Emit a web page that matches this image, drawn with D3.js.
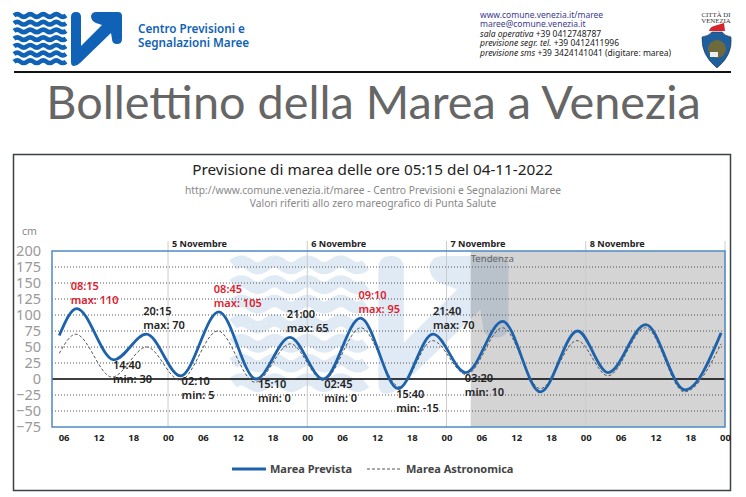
<!DOCTYPE html>
<html>
<head>
<meta charset="utf-8">
<style>
  body { margin: 0; background: #fff; }
  svg { display: block; font-family: "Noto Sans", sans-serif; }
</style>
</head>
<body>
<div id="chart"></div>
<script src="https://cdn.jsdelivr.net/npm/d3@7"></script>
<script>
// values
const forecastTimes = ['2022-11-04 05:15', '2022-11-04 08:15', '2022-11-04 14:40', '2022-11-04 20:15', '2022-11-05 02:10', '2022-11-05 08:45', '2022-11-05 15:10', '2022-11-05 21:00', '2022-11-06 02:45', '2022-11-06 09:10', '2022-11-06 15:40', '2022-11-06 21:40', '2022-11-07 03:20', '2022-11-07 09:40', '2022-11-07 16:10', '2022-11-07 22:35', '2022-11-08 03:50', '2022-11-08 10:20', '2022-11-08 17:05', '2022-11-08 23:20'];
const forecastValues = [68, 110, 30, 70, 5, 105, 0, 65, 0, 95, -15, 70, 10, 90, -20, 75, 10, 85, -17, 72];

const astroTimes = ['2022-11-04 05:15', '2022-11-04 08:05', '2022-11-04 14:20', '2022-11-04 20:20', '2022-11-05 02:05', '2022-11-05 08:35', '2022-11-05 15:00', '2022-11-05 21:05', '2022-11-06 02:45', '2022-11-06 09:15', '2022-11-06 15:55', '2022-11-06 21:35', '2022-11-07 03:25', '2022-11-07 09:40', '2022-11-07 16:10', '2022-11-07 22:30', '2022-11-08 03:50', '2022-11-08 10:20', '2022-11-08 17:00', '2022-11-08 23:20'];
const astroValues = [40, 70, 3, 50, -2, 75, -5, 55, -2, 80, -12, 60, 7, 80, -15, 60, 5, 80, -20, 55];

const labelTimes = ['08:15', '14:40', '20:15', '02:10', '08:45', '15:10', '21:00', '02:45', '09:10', '15:40', '21:40', '03:20'];
const labelKinds = ['max', 'min', 'max', 'min', 'max', 'min', 'max', 'min', 'max', 'min', 'max', 'min'];
const labelValues = [110, 30, 70, 5, 105, 0, 65, 0, 95, -15, 70, 10];
const labelAlert = [true, false, false, false, true, false, false, false, true, false, false, false];
const labelAt = forecastTimes.slice(1, 13);

const yTicks = [200, 175, 150, 125, 100, 75, 50, 25, 0, -25, -50, -75];
const gridValues = [175, 150, 125, 100, 75, 50, 25, -25, -50];
const dayNames = ['5 Novembre', '6 Novembre', '7 Novembre', '8 Novembre'];
const dayStarts = ['2022-11-05 00:00', '2022-11-06 00:00', '2022-11-07 00:00', '2022-11-08 00:00', '2022-11-09 00:00'];
const trendStart = '2022-11-07 04:10';

const width = 746;
const height = 497;
const plot = { left: 52, right: 725, top: 251, bottom: 427 };
const blue = '#0f62b6';

const parseTime = d3.timeParse('%Y-%m-%d %H:%M');

const svg = d3.select('#chart').append('svg')
    .attr('width', width)
    .attr('height', height);

const xScale = d3.scaleTime()
    .domain([parseTime('2022-11-04 04:00'), parseTime('2022-11-09 00:00')])
    .range([plot.left, plot.right]);

const yScale = d3.scaleLinear()
    .domain([-75, 200])
    .range([plot.bottom, plot.top]);

// the centre's logo, drawn in its own 108x54 box
function drawLogo(group) {
    for (let row = 0; row < 7; row++) {
        let d = 'M0 ' + (3.5 + row * 7.7);
        for (let i = 0; i < 8; i++) {
            d += ' q3.25 ' + (i % 2 ? 2.6 : -2.6) + ' 6.5 0';
        }
        group.append('path')
            .attr('d', d)
            .attr('fill', 'none')
            .attr('stroke', 'currentColor')
            .attr('stroke-width', 4.6);
    }
    group.append('path')
        .attr('d', 'M57 5 Q57 0 62 0 Q67 0 67 5 L67 34 L88 13 L82 11 Q77 9 77 4 Q78 0 82 0 L104 0 Q108 0 108 4 L108 27 Q108 32 103 32 Q98 32 98 27 L97 21 L66 51 Q63 54 60 54 Q57 54 57 50 Z')
        .attr('fill', 'currentColor');
}

// header
drawLogo(svg.append('g')
    .attr('transform', 'translate(14,12)')
    .style('color', blue));

svg.selectAll('.centre')
    .data(['Centro Previsioni e', 'Segnalazioni Maree'])
    .enter().append('text')
    .attr('x', 138)
    .attr('y', (d, i) => 33 + i * 14)
    .attr('font-size', 11.7)
    .attr('font-weight', 600)
    .attr('fill', blue)
    .text(d => d);

const contacts = [
    ['', 'www.comune.venezia.it/maree'],
    ['', 'maree@comune.venezia.it'],
    ['sala operativa', ' +39 0412748787'],
    ['previsione segr. tel.', ' +39 0412411996'],
    ['previsione sms', ' +39 3424141041 (digitare: marea)']
];
contacts.forEach((c, i) => {
    const t = svg.append('text')
        .attr('x', 480)
        .attr('y', 17.5 + i * 9.5)
        .attr('font-size', 8.5)
        .attr('fill', i < 2 ? '#3c3a8e' : '#222');
    t.append('tspan').attr('font-style', 'italic').text(c[0]);
    t.append('tspan').text(c[1]);
});

// city crest
svg.selectAll('.crest')
    .data(['CITTÀ DI', 'VENEZIA'])
    .enter().append('text')
    .attr('x', 716)
    .attr('y', (d, i) => 16.5 + i * 6.5)
    .attr('text-anchor', 'middle')
    .attr('font-family', '"Liberation Serif", serif')
    .attr('font-size', 6.8)
    .attr('fill', '#333')
    .text(d => d);
svg.append('path')
    .attr('d', 'M709 31 Q710 27 714 26 L724 23 L725 31 Z')
    .attr('fill', '#d8232a');
svg.append('path')
    .attr('d', 'M702 37 Q709 36 712 32 L722 32 Q725 36 731 37 Q733 55 717 68 Q701 55 702 37 Z')
    .attr('fill', '#1f5f9e')
    .attr('stroke', '#17344f')
    .attr('stroke-width', 0.6);
svg.append('circle')
    .attr('cx', 717)
    .attr('cy', 49)
    .attr('r', 9)
    .attr('fill', '#6f6a3c');
svg.append('rect')
    .attr('x', 710)
    .attr('y', 52)
    .attr('width', 8)
    .attr('height', 5)
    .attr('fill', '#eee');

svg.append('line')
    .attr('x1', 14)
    .attr('x2', 731)
    .attr('y1', 72)
    .attr('y2', 72)
    .attr('stroke', '#111')
    .attr('stroke-width', 2);

svg.append('text')
    .attr('x', 373.5)
    .attr('y', 119)
    .attr('text-anchor', 'middle')
    .attr('font-family', 'Lato, sans-serif')
    .attr('font-size', 46.8)
    .attr('fill', '#666')
    .text('Bollettino della Marea a Venezia');

// outer frame
svg.append('rect')
    .attr('x', 13.5)
    .attr('y', 154.5)
    .attr('width', 717)
    .attr('height', 336)
    .attr('fill', '#fff')
    .attr('stroke', '#3a4248')
    .attr('stroke-width', 1.5);

svg.append('text')
    .attr('x', 372.5)
    .attr('y', 175)
    .attr('text-anchor', 'middle')
    .attr('font-size', 15.3)
    .attr('fill', '#222')
    .text('Previsione di marea delle ore 05:15 del 04-11-2022');

svg.selectAll('.subtitle')
    .data(['http://www.comune.venezia.it/maree - Centro Previsioni e Segnalazioni Maree', 'Valori riferiti allo zero mareografico di Punta Salute'])
    .enter().append('text')
    .attr('x', 373)
    .attr('y', (d, i) => 194 + i * 13)
    .attr('text-anchor', 'middle')
    .attr('font-size', 10.3)
    .attr('fill', '#888')
    .text(d => d);

svg.append('text')
    .attr('x', 22)
    .attr('y', 235)
    .attr('font-size', 10.5)
    .attr('fill', '#888')
    .text('cm');

// plot background: watermark, then the trend shading on top of it
drawLogo(svg.append('g')
    .attr('transform', 'translate(233,256) scale(2.55)')
    .attr('opacity', 0.13)
    .style('color', blue));

svg.append('rect')
    .attr('x', xScale(parseTime(trendStart)))
    .attr('y', plot.top)
    .attr('width', plot.right - xScale(parseTime(trendStart)))
    .attr('height', plot.bottom - plot.top)
    .attr('fill', '#000')
    .attr('opacity', 0.17);

svg.append('text')
    .attr('x', xScale(parseTime(trendStart)))
    .attr('y', 262)
    .attr('font-size', 9.6)
    .attr('fill', '#666')
    .text('Tendenza');

svg.selectAll('.grid')
    .data(gridValues)
    .enter().append('line')
    .attr('x1', plot.left)
    .attr('x2', plot.right)
    .attr('y1', d => yScale(d))
    .attr('y2', d => yScale(d))
    .attr('stroke', '#555')
    .attr('stroke-dasharray', '1,2');

svg.selectAll('.day-line')
    .data(dayStarts)
    .enter().append('line')
    .attr('x1', d => xScale(parseTime(d)))
    .attr('x2', d => xScale(parseTime(d)))
    .attr('y1', 241)
    .attr('y2', plot.bottom)
    .attr('stroke', '#ccc');

svg.selectAll('.day-name')
    .data(dayNames)
    .enter().append('text')
    .attr('x', (d, i) => xScale(parseTime(dayStarts[i])) + 4)
    .attr('y', 247)
    .attr('font-size', 9.1)
    .attr('font-weight', 700)
    .attr('fill', '#222')
    .text(d => d);

svg.append('line')
    .attr('x1', plot.left)
    .attr('x2', plot.right)
    .attr('y1', yScale(0))
    .attr('y2', yScale(0))
    .attr('stroke', '#000')
    .attr('stroke-width', 1.6);

// axes
const yAxis = d3.axisLeft(yScale).tickValues(yTicks).tickSize(0).tickPadding(11);
const yAxisGroup = svg.append('g')
    .attr('transform', 'translate(' + plot.left + ',0)')
    .call(yAxis);
yAxisGroup.select('.domain').remove();
yAxisGroup.selectAll('text')
    .attr('font-family', '"Noto Sans", sans-serif')
    .attr('font-size', 14.5)
    .attr('fill', '#999');

const xTicks = d3.timeHour.every(6).range(parseTime('2022-11-04 06:00'), parseTime('2022-11-09 00:01'));
const xAxis = d3.axisBottom(xScale)
    .tickValues(xTicks)
    .tickSize(0)
    .tickPadding(7)
    .tickFormat(d3.timeFormat('%H'));
const xAxisGroup = svg.append('g')
    .attr('transform', 'translate(0,' + plot.bottom + ')')
    .call(xAxis);
xAxisGroup.select('.domain').remove();
xAxisGroup.selectAll('text')
    .attr('font-family', '"Noto Sans", sans-serif')
    .attr('font-size', 9.5)
    .attr('font-weight', 700)
    .attr('fill', '#222');

// curves
const tideLine = d3.line()
    .x(d => xScale(d[0]))
    .y(d => yScale(d[1]))
    .curve(d3.curveMonotoneX);

svg.append('path')
    .attr('d', tideLine(astroTimes.map((t, i) => [parseTime(t), astroValues[i]])))
    .attr('fill', 'none')
    .attr('stroke', '#555')
    .attr('stroke-width', 1)
    .attr('stroke-dasharray', '3,2');

svg.append('path')
    .attr('d', tideLine(forecastTimes.map((t, i) => [parseTime(t), forecastValues[i]])))
    .attr('fill', 'none')
    .attr('stroke', '#1d62ab')
    .attr('stroke-width', 2.8);

// high and low water labels
const labelDx = [-6, -1, -3, 1, -5, 2, -3, 1, -2, -2, 0, -1];
labelTimes.forEach((time, i) => {
    const isMax = labelKinds[i] === 'max';
    const lx = xScale(parseTime(labelAt[i])) + labelDx[i];
    const ly = yScale(labelValues[i]);
    const rows = [time, labelKinds[i] + ': ' + labelValues[i]];
    svg.selectAll('.label' + i)
        .data(rows)
        .enter().append('text')
        .attr('x', lx)
        .attr('y', (d, r) => ly + (isMax ? -19 : 9) + r * 14)
        .attr('font-size', 11)
        .attr('font-weight', 600)
        .attr('fill', labelAlert[i] ? '#e0202c' : '#222')
        .text(d => d);
});

svg.append('rect')
    .attr('x', plot.left)
    .attr('y', plot.top)
    .attr('width', plot.right - plot.left)
    .attr('height', plot.bottom - plot.top)
    .attr('fill', 'none')
    .attr('stroke', '#4f8bc4')
    .attr('stroke-width', 1.5);

// legend
svg.append('line')
    .attr('x1', 232)
    .attr('x2', 266)
    .attr('y1', 469)
    .attr('y2', 469)
    .attr('stroke', '#1d62ab')
    .attr('stroke-width', 2.8);
svg.append('line')
    .attr('x1', 367)
    .attr('x2', 402)
    .attr('y1', 469)
    .attr('y2', 469)
    .attr('stroke', '#555')
    .attr('stroke-dasharray', '3,2');
svg.selectAll('.legend')
    .data([['Marea Prevista', 270], ['Marea Astronomica', 406]])
    .enter().append('text')
    .attr('x', d => d[1])
    .attr('y', 473)
    .attr('font-size', 11)
    .attr('font-weight', 700)
    .attr('fill', '#444')
    .text(d => d[0]);
</script>
</body>
</html>
